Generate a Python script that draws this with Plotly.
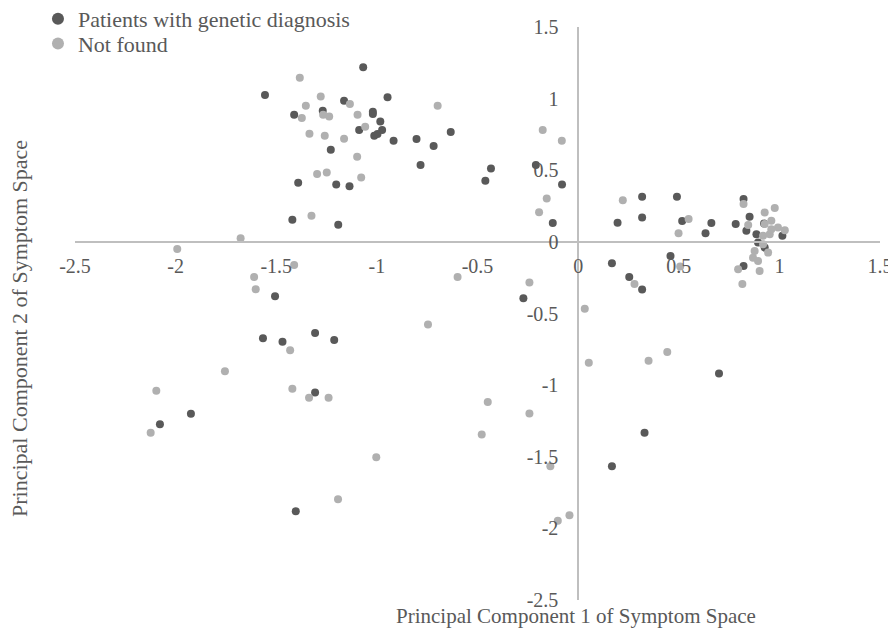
import plotly.graph_objects as go

# Patients with genetic diagnosis (PC1, PC2)
diag_x = [-1.068, -1.556, -0.947, -1.163, -1.411, -1.269, -1.020, -1.020, -0.983, -1.088,
          -0.974, -0.997, -1.013, -0.917, -0.803, -0.718, -0.633, -1.229, -0.783, -1.391,
          -1.202, -1.136, -0.433, -0.461, -1.420, -1.192, -0.210, -0.080, -0.126, 0.318,
          0.491, 0.196, 0.318, 0.517, 0.662, 0.633, 0.459, 0.168, 0.254, 0.318,
          -0.272, -1.506, -1.566, -1.469, -1.307, -1.212, -1.307, -1.924, -2.078, -1.403,
          0.330, 0.168, 0.700, 0.822, 0.852, 0.783, 0.836, 0.924, 1.015, 0.886,
          0.894, 0.927, 0.822]
diag_y = [1.219, 1.026, 1.009, 0.986, 0.888, 0.916, 0.909, 0.893, 0.841, 0.781,
          0.781, 0.753, 0.741, 0.706, 0.718, 0.669, 0.767, 0.643, 0.536, 0.413,
          0.401, 0.389, 0.513, 0.427, 0.154, 0.119, 0.536, 0.401, 0.131, 0.315,
          0.315, 0.133, 0.170, 0.145, 0.131, 0.061, -0.098, -0.149, -0.245, -0.333,
          -0.394, -0.380, -0.673, -0.697, -0.636, -0.685, -1.051, -1.200, -1.273, -1.881,
          -1.333, -1.566, -0.918, 0.299, 0.175, 0.124, 0.077, 0.128, 0.042, 0.054,
          -0.005, -0.040, -0.168]

# Not found (PC1, PC2)
nf_x = [-1.383, -0.698, -1.279, -1.353, -1.134, -1.373, -1.267, -1.237, -1.096, -1.058,
        -1.335, -1.259, -1.163, -1.098, -1.297, -1.249, -1.078, -1.325, -1.677, -1.992,
        -0.176, -0.081, -0.156, -0.194, 0.222, 0.549, 0.499, 0.507, 0.280, -0.242,
        0.033, 0.053, 0.350, 0.443, -0.599, -0.449, -0.242, -0.479, -0.138, -0.043,
        -0.101, -1.411, -1.610, -1.602, -1.431, -0.746, -1.755, -2.096, -1.420, -1.337,
        -1.240, -2.124, -1.003, -1.193, 0.822, 0.927, 0.977, 0.845, 0.960, 0.927,
        1.027, 0.993, 0.919, 0.952, 0.960, 0.919, 0.877, 0.944, 0.869, 0.894,
        0.795, 0.902, 0.816]
nf_y = [1.145, 0.951, 1.014, 0.951, 0.963, 0.865, 0.888, 0.876, 0.888, 0.804,
        0.755, 0.741, 0.720, 0.594, 0.473, 0.485, 0.450, 0.182, 0.026, -0.049,
        0.781, 0.706, 0.303, 0.207, 0.291, 0.159, 0.061, -0.172, -0.294, -0.284,
        -0.466, -0.844, -0.830, -0.769, -0.245, -1.117, -1.198, -1.345, -1.566, -1.909,
        -1.946, -0.161, -0.245, -0.331, -0.757, -0.576, -0.904, -1.040, -1.026, -1.089,
        -1.089, -1.333, -1.503, -1.797, 0.264, 0.205, 0.236, 0.117, 0.147, 0.124,
        0.082, 0.100, 0.042, 0.054, 0.089, -0.016, -0.063, -0.075, -0.110, -0.133,
        -0.191, -0.203, -0.294]

x_ticks = [-2.5, -2, -1.5, -1, -0.5, 0, 0.5, 1, 1.5]
x_tick_labels = ["-2.5", "-2", "-1.5", "-1", "-0.5", "0", "0.5", "1", "1.5"]
y_ticks = [-2.5, -2, -1.5, -1, -0.5, 0, 0.5, 1, 1.5]
y_tick_labels = ["-2.5", "-2", "-1.5", "-1", "-0.5", "0", "0.5", "1", "1.5"]

FONT = "Liberation Serif, Times New Roman, serif"
TXT = "#595959"
BIG = 22

fig = go.Figure()
fig.add_trace(go.Scatter(x=diag_x, y=diag_y, mode="markers",
                         name="Patients with genetic diagnosis", legend="legend",
                         marker=dict(color="#595959", size=8, line=dict(width=0))))
fig.add_trace(go.Scatter(x=nf_x, y=nf_y, mode="markers", name="Not found",
                         legend="legend2",
                         marker=dict(color="#b0b0b0", size=8, line=dict(width=0))))

leg_common = dict(xref="paper", yref="paper", x=-0.046,
                  xanchor="left", yanchor="top", bgcolor="rgba(0,0,0,0)",
                  font=dict(family=FONT, size=BIG, color=TXT),
                  itemsizing="constant", itemwidth=30)

fig.update_layout(
    width=896, height=629,
    margin=dict(l=67, r=24, t=19, b=37, autoexpand=False),
    paper_bgcolor="white", plot_bgcolor="white",
    font=dict(family=FONT, size=20, color=TXT),
    showlegend=True,
    legend=dict(y=1.0505, **leg_common),
    legend2=dict(y=1.0075, **leg_common),
    xaxis=dict(range=[-2.5, 1.5], tickvals=x_ticks, ticktext=x_tick_labels,
               showgrid=False, zeroline=False, showline=True,
               linecolor="#bfbfbf", linewidth=1.5,
               anchor="free", position=0.625, ticks="",
               ticklabelstandoff=6, automargin=False,
               tickfont=dict(family=FONT, size=20, color=TXT)),
    yaxis=dict(range=[-2.5, 1.5], tickvals=y_ticks, ticktext=y_tick_labels,
               showgrid=False, zeroline=False, showline=True,
               linecolor="#bfbfbf", linewidth=1.5,
               anchor="free", position=0.625, ticks="",
               ticklabelstandoff=15, automargin=False,
               tickfont=dict(family=FONT, size=20, color=TXT)),
    annotations=[
        dict(text="Principal Component 1 of Symptom Space", xref="paper", yref="paper",
             x=0.622, y=0, yshift=-16, xanchor="center", yanchor="middle",
             showarrow=False, font=dict(family=FONT, size=21, color=TXT)),
        dict(text="Principal Component 2 of Symptom Space", xref="paper", yref="paper",
             x=0, y=0.473, xshift=-55, textangle=-90, xanchor="center", yanchor="middle",
             showarrow=False, font=dict(family=FONT, size=BIG, color=TXT)),
    ],
)

fig.write_html("out.html")
